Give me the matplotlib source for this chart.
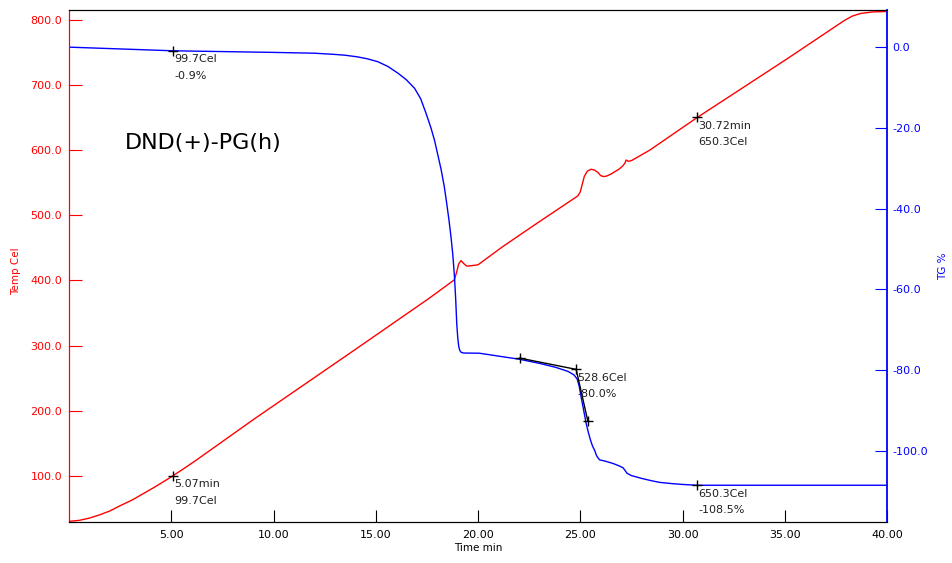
import matplotlib

matplotlib.use("Agg")
import matplotlib.pyplot as plt
from matplotlib.ticker import FormatStrFormatter

# --- temperature trace (left axis, Cel) ---
time_temp = [0, 0.5, 1.0, 1.5, 2.0, 2.5, 3.1, 3.6, 4.1, 4.6, 5.07, 5.6, 6.2, 9.0,
             14.0, 17.62, 18.84, 18.95, 19.05, 19.17, 19.3, 19.45, 19.6, 20.0, 21.21,
             22.84, 24.88, 25.0, 25.1, 25.2, 25.35, 25.53, 25.7, 25.86, 26.0, 26.15,
             26.3, 26.51, 26.9, 27.08, 27.18, 27.24, 27.35, 27.5, 28.39, 30.72, 35.08,
             37.9, 38.3, 38.7, 39.3, 40.0]
temp = [30, 31.5, 35, 40, 46, 54, 63, 72, 81, 90.5, 99.7, 110.7, 123.5, 186,
        294, 372.8, 400.9, 412, 425, 430.6, 426, 422, 422.4, 424, 452,
        486.9, 529.8, 536, 548, 560, 568, 570.8, 569.5, 566, 561, 559.5,
        560.5, 563.6, 571, 575.9, 580, 585, 583, 584, 600, 650.3, 739.7,
        799, 806, 810, 812.5, 813]

# --- TG trace (right axis, %) ---
time_tg = [0, 5.07, 10, 12.0, 13.0, 13.5, 14.1, 14.6, 15.1, 15.6, 16.1, 16.5,
           16.9, 17.2, 17.46, 17.7, 17.87, 18.05, 18.2, 18.35, 18.47, 18.58, 18.68,
           18.77, 18.85, 18.91, 18.96, 19.01, 19.06, 19.11, 19.18, 19.3, 20.07,
           22.03, 23.0, 23.8, 24.4, 24.7, 24.85, 24.95, 25.04, 25.17, 25.29, 25.4,
           25.5, 25.6, 25.7, 25.8, 25.94, 26.2, 26.6, 26.9, 27.1, 27.2, 27.28, 27.5,
           28.0, 28.5, 28.9, 29.5, 30.0, 30.72, 40.0]
tg = [0, -0.9, -1.3, -1.5, -1.8, -2.0, -2.4, -2.9, -3.6, -4.8, -6.5, -8.1,
      -10.2, -12.8, -16.4, -20.0, -23.0, -27.0, -30.4, -34.5, -38.7, -42.8, -47.0,
      -51.5, -56.9, -62.5, -68.4, -72.0, -74.2, -75.1, -75.6, -75.75, -75.8,
      -77.3, -78.3, -79.3, -80.3, -81.2, -82.2, -84.0, -86.6, -90.0, -93.2, -95.5,
      -97.3, -98.8, -99.8, -101.2, -102.2, -102.5, -103.1, -103.7, -104.2, -104.9, -105.5, -106.1,
      -106.8, -107.4, -107.8, -108.1, -108.3, -108.5, -108.5]

# tangent construction for onset of the second step
tan1_t, tan1_tg = [22.03, 24.8], [-77.0, -79.8]
tan2_t, tan2_tg = [24.8, 25.37], [-79.8, -92.6]

# annotated points: (time, value, text)
temp_marks = [(5.07, 99.7, "5.07min\n99.7Cel"), (30.72, 650.3, "30.72min\n650.3Cel")]
tg_marks = [(5.07, -0.9, "99.7Cel\n-0.9%"), (30.72, -108.5, "650.3Cel\n-108.5%"),
            (24.8, -79.8, "528.6Cel\n-80.0%")]

x_ticks = [5, 10, 15, 20, 25, 30, 35, 40]
temp_ticks = [100, 200, 300, 400, 500, 600, 700, 800]
tg_ticks = [0, -20, -40, -60, -80, -100]

fig = plt.figure(figsize=(9.52, 5.63), dpi=100)
ax = fig.add_axes([69 / 952, 41 / 563, 818 / 952, 512 / 563])
ax2 = ax.twinx()

ax.plot(time_temp, temp, color="red", lw=1)
ax2.plot(time_tg, tg, color="blue", lw=1)
ax2.plot(tan1_t, tan1_tg, color="black", lw=1)
ax2.plot(tan2_t, tan2_tg, color="black", lw=1)
ax2.plot([tan1_t[0], tan2_t[1]], [tan1_tg[0], tan2_tg[1]], ls="none",
         marker="+", ms=7, mew=1, color="black")

for t, v, s in temp_marks:
    ax.plot(t, v, marker="+", ms=7, mew=1, color="black")
    ax.annotate(s, (t, v), xytext=(1, -2.5), textcoords="offset points",
                ha="left", va="top", fontsize=8, linespacing=1.8, color="#202020")
for t, v, s in tg_marks:
    ax2.plot(t, v, marker="+", ms=7, mew=1, color="black")
    ax2.annotate(s, (t, v), xytext=(1, -2.5), textcoords="offset points",
                 ha="left", va="top", fontsize=8, linespacing=1.8, color="#202020")

ax.set_xlim(0, 40)
ax.set_ylim(29, 815.4)
ax2.set_ylim(-117.6, 9.2)

ax.set_xticks(x_ticks)
ax.set_yticks(temp_ticks)
ax2.set_yticks(tg_ticks)
ax.xaxis.set_major_formatter(FormatStrFormatter("%.2f"))
ax.yaxis.set_major_formatter(FormatStrFormatter("%.1f"))
ax2.yaxis.set_major_formatter(FormatStrFormatter("%.1f"))

ax.tick_params(axis="x", direction="in", length=9, labelsize=8, pad=6)
ax.tick_params(axis="y", direction="in", length=9, labelsize=8, pad=5,
               colors="red")
ax2.tick_params(axis="y", direction="in", length=9, labelsize=8, pad=4,
                colors="blue")

ax.spines["left"].set_color("red")
ax2.spines["left"].set_color("red")
ax2.spines["right"].set_color("blue")
ax2.spines["right"].set_linewidth(1.3)
ax.spines["right"].set_visible(False)

ax.set_xlabel("Time min", fontsize=7.5, labelpad=2)
ax.set_ylabel("Temp Cel", fontsize=7.5, color="red")
ax2.set_ylabel("TG %", fontsize=7.5, color="blue", rotation=90)
ax.yaxis.label.set_va("center")
ax2.yaxis.label.set_va("center")
ax.yaxis.set_label_coords(-0.065, 0.49)
ax2.yaxis.set_label_coords(1.068, 0.5)

ax.text(0.068, 0.74, "DND(+)-PG(h)", transform=ax.transAxes,
        fontsize=16, ha="left", va="center", color="black")

fig.savefig("out.png", dpi=100)
